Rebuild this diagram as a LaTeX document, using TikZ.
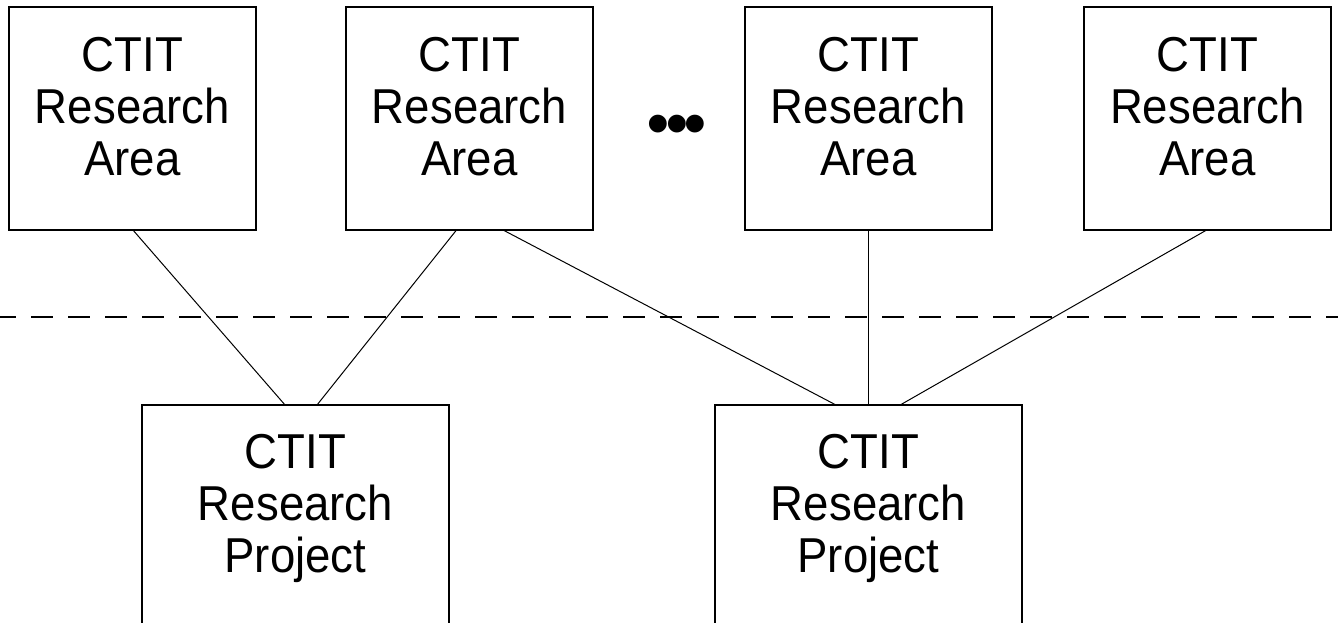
\documentclass[tikz,border=0pt]{standalone}
\usepackage{fontspec}
\setmainfont{Liberation Sans}
\newfontfamily\boxfont[FakeStretch=0.93]{Liberation Sans}
\usetikzlibrary{calc}
\begin{document}
\begin{tikzpicture}[x=1pt,y=-1pt,
  box/.style={draw, line width=2pt, inner sep=0pt, outer sep=0pt, anchor=north west},
  areabox/.style={box, minimum width=247pt, minimum height=222pt},
  projbox/.style={box, minimum width=307pt, minimum height=300pt},
  lbl/.style={font=\boxfont\fontsize{49}{52}\selectfont, align=center, inner sep=0pt, anchor=north},
  conn/.style={line width=1pt},
  dashline/.style={line width=2pt, dash pattern=on 22pt off 15pt, dash phase=6pt}
]
\useasboundingbox (0,0) rectangle (1338,623);
\clip (0,0) rectangle (1338,623);
% top boxes
\node[areabox] (a1) at (9,7.5) {};
\node[areabox] (a2) at (346,7.5) {};
\node[areabox] (a3) at (745,7.5) {};
\node[areabox] (a4) at (1084,7.5) {};
% bottom boxes
\node[projbox] (p1) at (142,405) {};
\node[projbox] (p2) at (715,405) {};
% labels
\foreach \b in {a1,a2,a3,a4}{
  \node[lbl] (t\b) at ($(\b.north)+(0,29.5)$) {CTIT\\Research\\Area};
}
\foreach \b in {p1,p2}{
  \node[lbl] (t\b) at ($(\b.north)+(0,29.5)$) {CTIT\\Research\\Project};
}
% dots
\node[font=\fontsize{62}{62}\selectfont\bfseries, inner sep=0pt] (dots) at (677,130) {•\kern-3.5pt•\kern-3.5pt•};
% dashed separator
\coordinate (dl) at (0,316.5);
\coordinate (dr) at (1338,316.5);
\draw[dashline] (dl) -- (dr);
% connectors
\draw[conn] (a1.south) -- ($(p1.north west)!0.466!(p1.north east)$);
\draw[conn] ($(a2.south west)!0.449!(a2.south east)$) -- ($(p1.north west)!0.57!(p1.north east)$);
\draw[conn] ($(a2.south west)!0.632!(a2.south east)$) -- ($(p2.north west)!0.394!(p2.north east)$);
\draw[conn] (a3.south) -- (p2.north);
\draw[conn] (a4.south) -- ($(p2.north west)!0.603!(p2.north east)$);
\end{tikzpicture}
\end{document}
